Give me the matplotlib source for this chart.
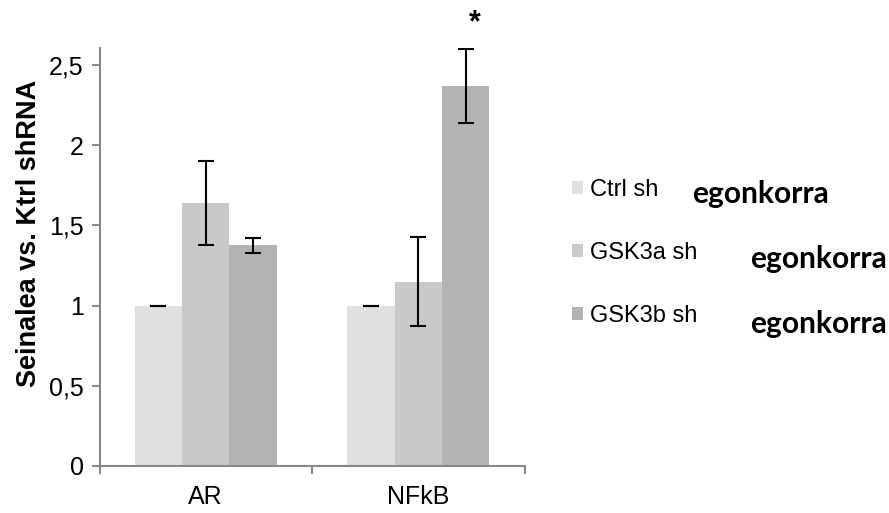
import matplotlib
matplotlib.use('Agg')
from matplotlib import pyplot as plt
import numpy as np

matplotlib.rcParams['font.family'] = ['Liberation Sans', 'DejaVu Sans']

categories = ['AR', 'NFkB']
series = ['Ctrl sh', 'GSK3a sh', 'GSK3b sh']
values = [[1.0, 1.0],
          [1.64, 1.15],
          [1.375, 2.37]]
errors = [[0.0, 0.0],
          [0.26, 0.28],
          [0.045, 0.23]]
colors = ['#e0e0e0', '#c9c9c9', '#b3b3b3']
yticks = [0, 0.5, 1, 1.5, 2, 2.5]
yticklabels = ['0', '0,5', '1', '1,5', '2', '2,5']
extra_word = 'egonkorra'

W, H = 889, 513
fig = plt.figure(figsize=(W / 100, H / 100), dpi=100)
ax = fig.add_axes([99.5 / W, 1 - 465.7 / H, 425 / W, 418 / H])

x = np.arange(len(categories))
bw = 0.2235
handles = []
for i, (s, v, e, c) in enumerate(zip(series, values, errors, colors)):
    pos = x + (i - 1) * bw
    b = ax.bar(pos, v, bw, color=c, label=s, zorder=2)
    handles.append(b)
    ax.errorbar(pos, v, yerr=e, fmt='none', ecolor='black', elinewidth=1.5,
                capsize=6, capthick=1.5, zorder=3)

# significance star on NFkB / GSK3b
ax.text(x[1] + bw + 0.045, 2.76, '*', ha='center', va='center', fontsize=22,
        fontweight='bold', clip_on=False)

ax.set_xlim(-0.5, 1.5)
ax.set_ylim(0, 2.61)
ax.set_yticks(yticks)
ax.set_yticklabels(yticklabels)
ax.set_xticks([-0.5, 0.5, 1.5])
ax.set_xticklabels([])
ax.set_xticks(x, minor=True)
ax.set_xticklabels(categories, minor=True)

axis_col = '#898989'
for side in ['top', 'right']:
    ax.spines[side].set_visible(False)
for side in ['left', 'bottom']:
    ax.spines[side].set_color(axis_col)
    ax.spines[side].set_linewidth(1.5)
ax.tick_params(axis='y', which='major', direction='out', length=5.5, width=1.5,
               color=axis_col, labelsize=18, pad=6)
ax.tick_params(axis='x', which='major', direction='out', length=5.5, width=1.5,
               color=axis_col)
ax.tick_params(axis='x', which='minor', length=0, labelsize=18, pad=14)

ax.set_ylabel('Seinalea vs. Ktrl shRNA', fontsize=19.5, fontweight='bold',
              va='center')
ax.yaxis.set_label_coords(-0.166, 0.555)

leg = ax.legend(handles=handles, loc='center left',
                bbox_to_anchor=(572 / W, 1 - 253 / H),
                bbox_transform=fig.transFigure, frameon=False, fontsize=17,
                handlelength=0.47, handleheight=0.47, handletextpad=0.3,
                labelspacing=1.75, borderpad=0, borderaxespad=0)

for xp, yp in zip([692, 750, 750], [203, 268, 333]):
    fig.text(xp / W, 1 - yp / H, extra_word, fontsize=21.5, fontweight='bold',
             family=['Lato', 'DejaVu Sans'], va='baseline', ha='left')

fig.savefig('out.png', dpi=100)
